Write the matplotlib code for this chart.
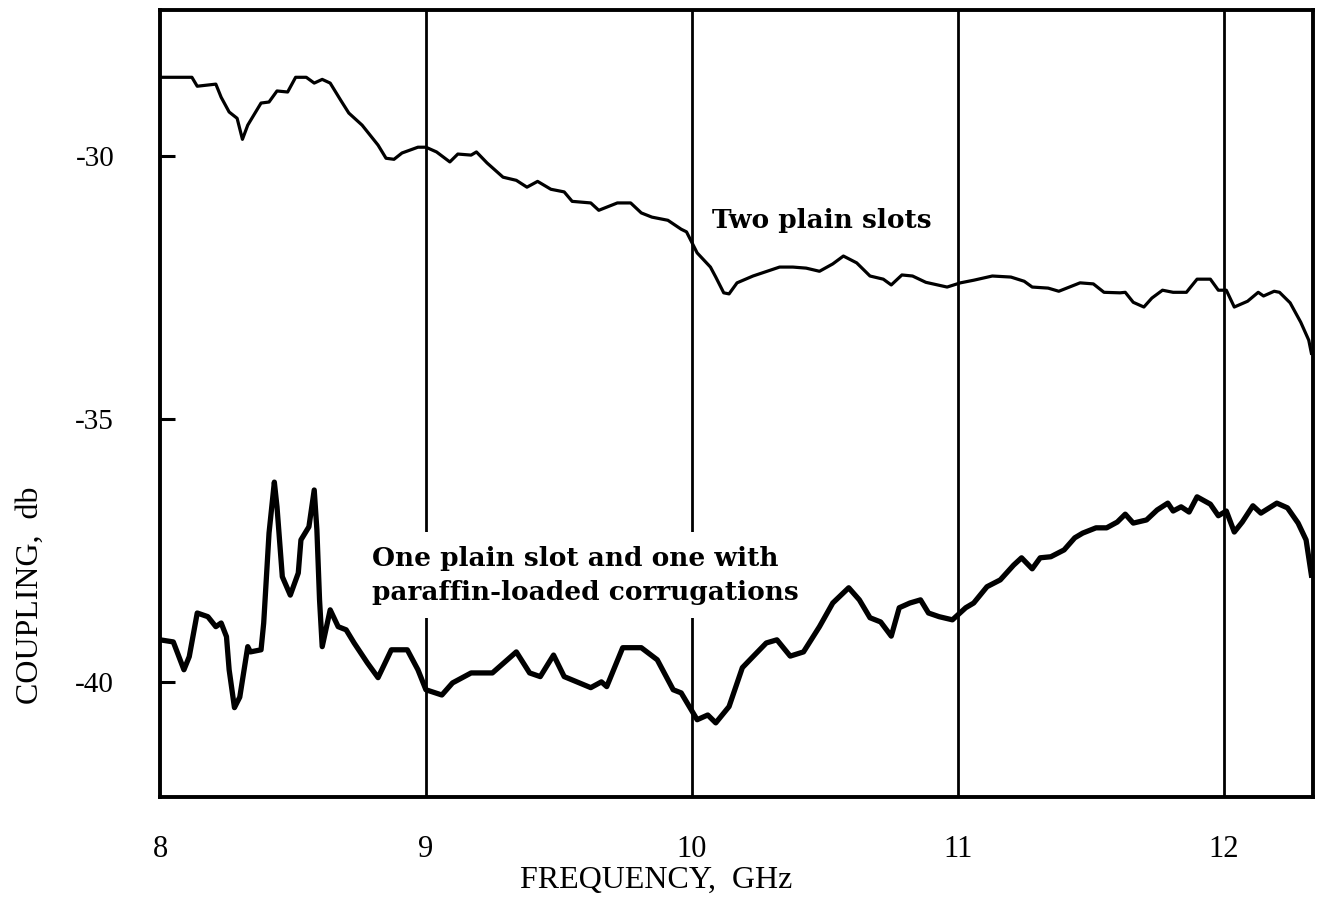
import numpy as np
import matplotlib
matplotlib.use("Agg")
import matplotlib.pyplot as plt

plt.rcParams['axes.unicode_minus'] = False

# Two plain slots (upper trace)
freq_plain = [8.01, 8.12, 8.14, 8.21, 8.23, 8.26, 8.29, 8.31, 8.33, 8.38, 8.41, 8.44,
              8.48, 8.51, 8.55, 8.58, 8.61, 8.64, 8.68, 8.71, 8.76, 8.82, 8.85, 8.88,
              8.91, 8.97, 9.00, 9.04, 9.09, 9.12, 9.17, 9.19, 9.23, 9.29, 9.34, 9.38,
              9.42, 9.47, 9.52, 9.55, 9.62, 9.65, 9.72, 9.77, 9.81, 9.85, 9.91, 9.96,
              9.98, 10.02, 10.07, 10.09, 10.12, 10.14, 10.17, 10.23, 10.33, 10.38, 10.43,
              10.48, 10.53, 10.57, 10.62, 10.67, 10.72, 10.75, 10.79, 10.83, 10.88, 10.96,
              11.01, 11.06, 11.13, 11.20, 11.25, 11.28, 11.34, 11.38, 11.42, 11.46, 11.51,
              11.55, 11.61, 11.63, 11.66, 11.70, 11.73, 11.77, 11.81, 11.86, 11.90, 11.95,
              11.98, 12.01, 12.04, 12.09, 12.13, 12.15, 12.19, 12.21, 12.25, 12.29, 12.32,
              12.33]
db_plain = [-28.50, -28.50, -28.67, -28.63, -28.88, -29.16, -29.28, -29.68, -29.41, -28.99,
            -28.97, -28.76, -28.78, -28.50, -28.50, -28.61, -28.54, -28.61, -28.94, -29.18,
            -29.41, -29.79, -30.04, -30.06, -29.94, -29.83, -29.83, -29.92, -30.11, -29.96,
            -29.98, -29.92, -30.13, -30.40, -30.46, -30.59, -30.48, -30.63, -30.68, -30.86,
            -30.89, -31.03, -30.89, -30.89, -31.08, -31.16, -31.22, -31.39, -31.44, -31.84,
            -32.11, -32.30, -32.60, -32.62, -32.41, -32.28, -32.11, -32.11, -32.13, -32.19,
            -32.05, -31.90, -32.03, -32.28, -32.34, -32.45, -32.26, -32.28, -32.40, -32.49,
            -32.41, -32.36, -32.28, -32.30, -32.38, -32.49, -32.51, -32.57, -32.49, -32.41,
            -32.43, -32.59, -32.60, -32.59, -32.78, -32.87, -32.70, -32.55, -32.59, -32.59,
            -32.34, -32.34, -32.55, -32.55, -32.87, -32.76, -32.59, -32.66, -32.57, -32.59,
            -32.79, -33.16, -33.50, -33.75]

# One plain slot and one with paraffin-loaded corrugations (lower trace)
freq_corr = [8.00, 8.05, 8.09, 8.11, 8.14, 8.18, 8.21, 8.23, 8.25, 8.26, 8.28, 8.30,
             8.33, 8.34, 8.38, 8.39, 8.41, 8.43, 8.44, 8.46, 8.49, 8.52, 8.53, 8.56,
             8.58, 8.59, 8.60, 8.61, 8.64, 8.67, 8.70, 8.73, 8.78, 8.82, 8.87, 8.93,
             8.97, 9.00, 9.06, 9.10, 9.17, 9.25, 9.34, 9.39, 9.43, 9.48, 9.52, 9.62,
             9.66, 9.68, 9.74, 9.81, 9.87, 9.93, 9.96, 10.02, 10.06, 10.09, 10.14, 10.19,
             10.23, 10.28, 10.32, 10.37, 10.42, 10.48, 10.53, 10.59, 10.63, 10.67, 10.71,
             10.75, 10.78, 10.82, 10.86, 10.89, 10.93, 10.98, 11.03, 11.06, 11.11, 11.16,
             11.21, 11.24, 11.28, 11.31, 11.35, 11.40, 11.44, 11.47, 11.52, 11.56, 11.60,
             11.63, 11.66, 11.71, 11.75, 11.79, 11.81, 11.84, 11.87, 11.90, 11.95, 11.98,
             12.01, 12.04, 12.07, 12.11, 12.14, 12.20, 12.24, 12.28, 12.31, 12.33]
db_corr = [-39.20, -39.24, -39.77, -39.52, -38.69, -38.76, -38.95, -38.88, -39.14, -39.77,
           -40.49, -40.29, -39.33, -39.43, -39.39, -38.88, -37.17, -36.20, -36.67, -38.00,
           -38.35, -37.93, -37.30, -37.05, -36.35, -37.11, -38.44, -39.33, -38.63, -38.95,
           -39.01, -39.26, -39.64, -39.92, -39.39, -39.39, -39.77, -40.15, -40.25, -40.02,
           -39.83, -39.83, -39.43, -39.83, -39.90, -39.49, -39.90, -40.11, -40.00, -40.09,
           -39.35, -39.35, -39.58, -40.15, -40.21, -40.72, -40.63, -40.78, -40.47, -39.73,
           -39.52, -39.26, -39.20, -39.51, -39.43, -38.95, -38.50, -38.21, -38.44, -38.78,
           -38.86, -39.13, -38.59, -38.50, -38.44, -38.69, -38.76, -38.82, -38.59, -38.50,
           -38.19, -38.06, -37.78, -37.64, -37.85, -37.64, -37.62, -37.49, -37.26, -37.17,
           -37.07, -37.07, -36.96, -36.81, -36.98, -36.92, -36.73, -36.60, -36.75, -36.67,
           -36.77, -36.48, -36.62, -36.84, -36.75, -37.15, -36.96, -36.65, -36.79, -36.60,
           -36.69, -36.98, -37.30, -37.97]

grid_freqs = [9, 10, 11, 12]
x_ticks = [8, 9, 10, 11, 12]
y_ticks = [-30, -35, -40]

fig = plt.figure(figsize=(13.24, 9.21), dpi=100)
ax = fig.add_axes([160 / 1324, 1 - 797 / 921, (1313 - 160) / 1324, (797 - 10) / 921])

for f in grid_freqs:
    ax.axvline(f, color='black', lw=2.0, zorder=1)

ax.plot(freq_plain, db_plain, color='black', lw=2.3, zorder=3)
ax.plot(freq_corr, db_corr, color='black', lw=3.8, zorder=3)

ax.text(10.076, -31.22, 'Two plain slots', family='DejaVu Serif', weight='bold',
        fontsize=19, ha='left', va='center', zorder=4)
ax.text(8.797, -37.97, 'One plain slot and one with\nparaffin-loaded corrugations',
        family='DejaVu Serif', weight='bold', fontsize=19, ha='left', va='center',
        linespacing=1.45, zorder=4,
        bbox=dict(boxstyle='square,pad=0.5', fc='white', ec='none'))

ax.set_xlim(8, 12.336)
ax.set_ylim(-42.19, -27.22)

ax.set_xticks(x_ticks)
ax.set_xticklabels([str(t) for t in x_ticks], family='Liberation Serif', fontsize=22)
ax.set_yticks(y_ticks)
ax.set_yticklabels([str(t) for t in y_ticks], family='Liberation Serif', fontsize=21)
ax.tick_params(axis='x', length=0, pad=27)
ax.tick_params(axis='y', direction='in', length=11, width=2.2, pad=33, right=False)

for s in ax.spines.values():
    s.set_linewidth(2.8)

fig.text(656 / 1324, 1 - 880 / 921, 'FREQUENCY,  GHz', family='Liberation Serif',
         fontsize=23, ha='center', va='center')
fig.text(30 / 1324, 1 - 595 / 921, 'COUPLING,  db', family='Liberation Serif',
         fontsize=23, ha='center', va='center', rotation=90)

plt.savefig('out.png', dpi=100)
